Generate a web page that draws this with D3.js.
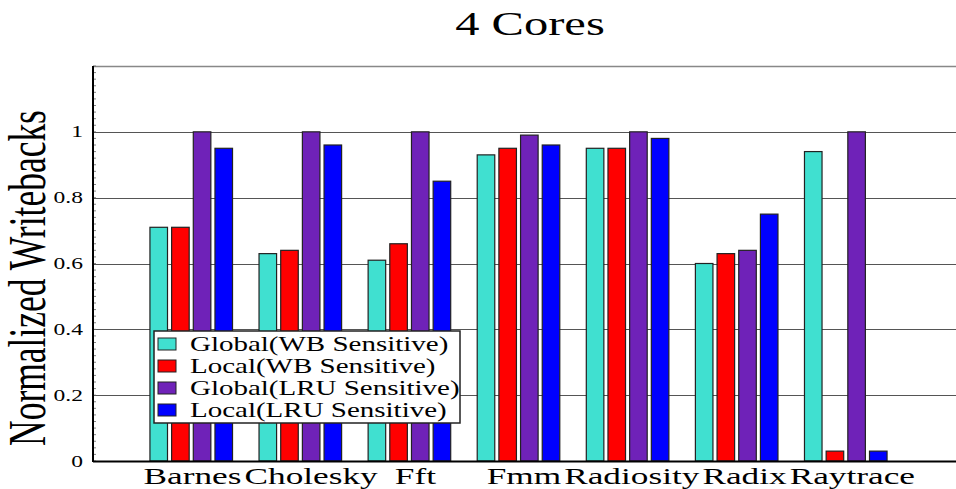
<!DOCTYPE html>
<html>
<head>
<meta charset="utf-8">
<script src="https://cdn.jsdelivr.net/npm/d3@7"></script>
<style>
  body { margin: 0; background: #fff; }
  svg { display: block; }
  text { font-family: "Liberation Serif", "Times New Roman", serif; fill: #000; }
</style>
</head>
<body>
<svg id="chart" width="956" height="489"></svg>
<script>
var categories = ['Barnes', 'Cholesky', 'Fft', 'Fmm', 'Radiosity', 'Radix', 'Raytrace'];
var seriesNames = ['Global(WB Sensitive)', 'Local(WB Sensitive)', 'Global(LRU Sensitive)', 'Local(LRU Sensitive)'];
var seriesColors = ['#40e0d0', '#ff0000', '#6f22b8', '#0000ff'];
var globalWB  = [0.71, 0.63, 0.61, 0.93, 0.95, 0.60, 0.94];
var localWB   = [0.71, 0.64, 0.66, 0.95, 0.95, 0.63, 0.03];
var globalLRU = [1.00, 1.00, 1.00, 0.99, 1.00, 0.64, 1.00];
var localLRU  = [0.95, 0.96, 0.85, 0.96, 0.98, 0.75, 0.03];
var yTicks = [0, 0.2, 0.4, 0.6, 0.8, 1];
var yTickLabels = ['0', '0.2', '0.4', '0.6', '0.8', '1'];

var values = [globalWB, localWB, globalLRU, localLRU];
var W = 956, H = 489;
var plotLeft = 93, plotTop = 66, plotBottom = 461;
var stretch = 1.47; // text in the picture is drawn wide

var svg = d3.select('#chart');

var y = d3.scaleLinear().domain([0, 1.2]).range([plotBottom, plotTop]);
var x0 = d3.scaleBand().domain(categories).range([plotLeft, 944])
  .paddingInner(0.243).paddingOuter(0.522);
var x1 = d3.scaleBand().domain(seriesNames).range([0, x0.bandwidth()]).paddingInner(0.19);

// grid lines
svg.append('g').selectAll('line')
  .data(yTicks.filter(function(d) { return d > 0; }))
  .enter().append('line')
  .attr('x1', plotLeft).attr('x2', W)
  .attr('y1', function(d) { return Math.round(y(d)) + 0.5; })
  .attr('y2', function(d) { return Math.round(y(d)) + 0.5; })
  .attr('stroke', '#555').attr('stroke-width', 1.2);

// top border
svg.append('line').attr('x1', plotLeft).attr('x2', W)
  .attr('y1', plotTop + 0.5).attr('y2', plotTop + 0.5)
  .attr('stroke', '#888').attr('stroke-width', 1.5);

// bars
var groups = svg.append('g').selectAll('g')
  .data(categories)
  .enter().append('g')
  .attr('transform', function(d) { return 'translate(' + x0(d) + ',0)'; });

groups.selectAll('rect')
  .data(function(c, i) {
    return seriesNames.map(function(s, j) { return {name: s, value: values[j][i], k: j}; });
  })
  .enter().append('rect')
  .attr('x', function(d) { return x1(d.name); })
  .attr('y', function(d) { return y(d.value); })
  .attr('width', x1.bandwidth())
  .attr('height', function(d) { return plotBottom - y(d.value); })
  .attr('fill', function(d) { return seriesColors[d.k]; })
  .attr('stroke', '#222').attr('stroke-width', 1.2);

// left axis with minor ticks
var yAxis = svg.append('g');
yAxis.selectAll('line.minor')
  .data(d3.range(0, 61).map(function(i) { return i * 0.02; }))
  .enter().append('line')
  .attr('class', 'minor')
  .attr('x1', plotLeft).attr('x2', plotLeft + 3)
  .attr('y1', function(d) { return y(d); })
  .attr('y2', function(d) { return y(d); })
  .attr('stroke', '#666').attr('stroke-width', 0.8);
yAxis.append('line').attr('x1', plotLeft).attr('x2', plotLeft)
  .attr('y1', plotTop).attr('y2', plotBottom + 1)
  .attr('stroke', '#000').attr('stroke-width', 2);

yAxis.selectAll('text')
  .data(yTicks)
  .enter().append('text')
  .attr('transform', function(d) { return 'translate(83,' + y(d) + ') scale(' + stretch + ',1)'; })
  .attr('dy', '0.35em')
  .attr('text-anchor', 'end')
  .style('font-size', '16px')
  .text(function(d, i) { return yTickLabels[i]; });

// bottom axis
svg.append('line').attr('x1', plotLeft).attr('x2', W)
  .attr('y1', plotBottom + 0.5).attr('y2', plotBottom + 0.5)
  .attr('stroke', '#000').attr('stroke-width', 2);

// category labels: start at group centres, then push apart where they collide
var xLabels = svg.append('g').selectAll('text')
  .data(categories)
  .enter().append('text')
  .attr('text-anchor', 'middle')
  .style('font-size', '24px')
  .text(function(d) { return d; });

var centers = categories.map(function(d) { return x0(d) + x0.bandwidth() / 2 + 6; });
var widths = [];
xLabels.each(function() { widths.push(this.getComputedTextLength() * stretch); });
for (var it = 0; it < 30; it++) {
  for (var i = 0; i < centers.length - 1; i++) {
    var overlap = (centers[i] + widths[i] / 2 + 3) - (centers[i + 1] - widths[i + 1] / 2);
    if (overlap > 0) {
      centers[i] -= overlap / 2;
      centers[i + 1] += overlap / 2;
    }
  }
}
xLabels.attr('transform', function(d, i) {
  return 'translate(' + centers[i] + ',484) scale(' + stretch + ',1)';
});

// title and y label
svg.append('text')
  .attr('transform', 'translate(530,35) scale(' + stretch + ',1)')
  .attr('text-anchor', 'middle')
  .style('font-size', '33px')
  .text('4 Cores');

svg.append('text')
  .attr('transform', 'translate(45,278) scale(' + stretch + ',1) rotate(-90)')
  .attr('text-anchor', 'middle')
  .style('font-size', '35.5px')
  .text('Normalized Writebacks');

// legend
var legend = svg.append('g').attr('transform', 'translate(154,331)');
legend.append('rect')
  .attr('width', 306).attr('height', 92)
  .attr('fill', '#fff').attr('stroke', '#222').attr('stroke-width', 1.5);

var items = legend.selectAll('g.item')
  .data(seriesNames)
  .enter().append('g')
  .attr('class', 'item')
  .attr('transform', function(d, i) { return 'translate(0,' + (13 + i * 22) + ')'; });
items.append('rect')
  .attr('x', 4).attr('y', -6).attr('width', 18).attr('height', 12)
  .attr('fill', function(d, i) { return seriesColors[i]; })
  .attr('stroke', '#222').attr('stroke-width', 1);
items.append('text')
  .attr('transform', 'translate(36,0) scale(1.45,1)')
  .attr('dy', '0.35em')
  .style('font-size', '20px')
  .text(function(d) { return d; });
</script>
</body>
</html>
